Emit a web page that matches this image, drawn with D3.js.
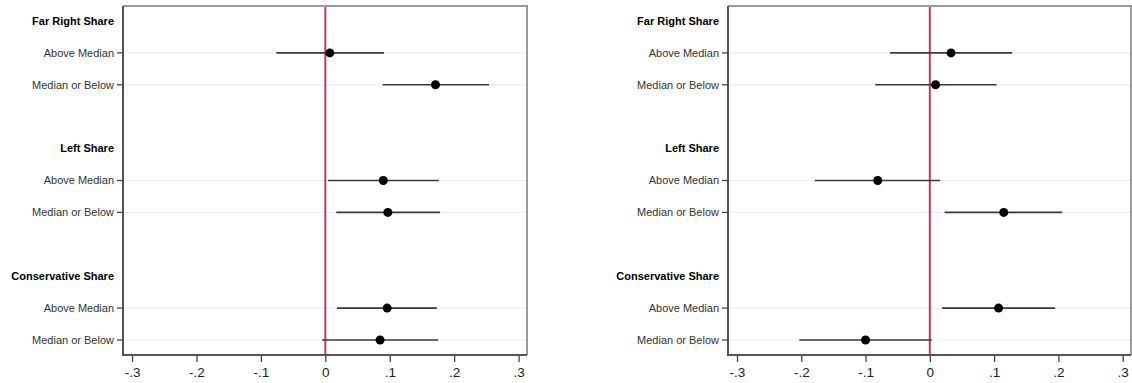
<!DOCTYPE html>
<html>
<head>
<meta charset="utf-8">
<script src="https://cdn.jsdelivr.net/npm/d3@7"></script>
<style>
	body { margin: 0; background: #fff; }
	svg { display: block; font-family: "Liberation Sans", Arial, sans-serif; }
</style>
</head>
<body>
<svg id="svgChart" width="1132" height="383"></svg>
<script>

// groups and levels, top to bottom
var groups = ["Far Right Share", "Left Share", "Conservative Share"];
var levels = ["Above Median", "Median or Below"];
var xTicks = [-0.3, -0.2, -0.1, 0, 0.1, 0.2, 0.3];

// left panel: estimate, lower and upper CI (order: FR AM, FR MB, L AM, L MB, C AM, C MB)
var leftEst   = [0.007, 0.171, 0.090, 0.097, 0.096, 0.085];
var leftLow   = [-0.076, 0.089, 0.004, 0.017, 0.018, -0.005];
var leftHigh  = [0.091, 0.254, 0.176, 0.178, 0.173, 0.175];

// right panel
var rightEst  = [0.033, 0.009, -0.081, 0.115, 0.107, -0.100];
var rightLow  = [-0.062, -0.085, -0.179, 0.023, 0.019, -0.203];
var rightHigh = [0.128, 0.104, 0.016, 0.206, 0.195, 0.003];

class CoefPanel{
	/*
		One coefficient plot: a header row per group, one row per level,
		a spacer row between groups, zero reference line in red.
	*/
	constructor(svg, est, low, high, config) {
		this.svg = svg;
		this.cfg = config;
		this.rows = this._buildRows(est, low, high);

		this.xScale = d3.scaleLinear()
						.domain([-0.314, 0.313])
						.range([config.left, config.right]);
		this.yScale = d3.scalePoint()
						.domain(this.rows.map(function(d) { return d.key; }))
						.range([config.firstRow, config.lastRow]);

		this.g = this.svg.append("g");
		this._drawGrid();
		this._drawZeroLine();
		this._drawEstimates();
		this._drawFrame();
		this._drawAxes();
	}
	_buildRows(est, low, high){
		var rows = [];
		var k = 0;
		groups.forEach(function(grp, gi) {
			rows.push({key: "h" + gi, label: grp, header: true});
			levels.forEach(function(lv) {
				rows.push({key: "r" + k, label: lv, header: false,
						   est: est[k], low: low[k], high: high[k]});
				k++;
			});
			if (gi < groups.length - 1) {
				rows.push({key: "s" + gi, label: "", header: true, spacer: true});
			}
		});
		return rows;
	}
	_drawGrid(){
		var that = this;
		this.g.selectAll(".grid")
			.data(this.rows.filter(function(d) { return !d.header; }))
			.enter().append("line")
			.attr("class", "grid")
			.attr("x1", this.cfg.left)
			.attr("x2", this.cfg.right)
			.attr("y1", function(d) { return that.yScale(d.key); })
			.attr("y2", function(d) { return that.yScale(d.key); })
			.attr("stroke", "#e9f1f2")
			.attr("stroke-width", 1.2);
	}
	_drawZeroLine(){
		this.g.append("line")
			.attr("x1", this.xScale(0))
			.attr("x2", this.xScale(0))
			.attr("y1", this.cfg.top)
			.attr("y2", this.cfg.bottom)
			.attr("stroke", "#c8365e")
			.attr("stroke-width", 2);
	}
	_drawEstimates(){
		var that = this;
		var pts = this.rows.filter(function(d) { return !d.header; });

		this.g.selectAll(".ci")
			.data(pts)
			.enter().append("line")
			.attr("class", "ci")
			.attr("x1", function(d) { return that.xScale(d.low); })
			.attr("x2", function(d) { return that.xScale(d.high); })
			.attr("y1", function(d) { return that.yScale(d.key); })
			.attr("y2", function(d) { return that.yScale(d.key); })
			.attr("stroke", "#3a3a3a")
			.attr("stroke-width", 1.6);

		this.g.selectAll(".pt")
			.data(pts)
			.enter().append("circle")
			.attr("class", "pt")
			.attr("cx", function(d) { return that.xScale(d.est); })
			.attr("cy", function(d) { return that.yScale(d.key); })
			.attr("r", 4.5)
			.style("fill", "#000");
	}
	_drawFrame(){
		var c = this.cfg;
		// top / right in light grey, left / bottom darker
		this.g.append("path")
			.attr("d", "M" + c.left + "," + c.top + "H" + c.right + "V" + c.bottom)
			.attr("fill", "none")
			.attr("stroke", "#9a9a9a")
			.attr("stroke-width", 2);
		this.g.append("path")
			.attr("d", "M" + c.left + "," + c.top + "V" + c.bottom + "H" + c.right)
			.attr("fill", "none")
			.attr("stroke", "#555")
			.attr("stroke-width", 2);
	}
	_drawAxes(){
		var that = this;
		var c = this.cfg;

		var fmt = function(v) {
			if (Math.abs(v) < 1e-9) return "0";
			return (v < 0 ? "-" : "") + Math.abs(v).toFixed(1).replace(/^0/, "");
		};
		var xAxis = d3.axisBottom(this.xScale)
						.tickValues(xTicks)
						.tickFormat(fmt)
						.tickSize(6)
						.tickPadding(5);
		var gx = this.g.append("g")
			.attr("transform", "translate(0," + (c.bottom + 1) + ")")
			.call(xAxis);
		gx.select(".domain").remove();
		gx.selectAll(".tick line").attr("stroke", "#444").attr("stroke-width", 1.3);
		gx.selectAll(".tick text")
			.attr("fill", "#222")
			.style("font-size", "13.5px")
			.style("font-family", "'Liberation Sans', Arial, sans-serif");

		// y labels: levels get a small tick, group headers are bold
		var labs = this.rows.filter(function(d) { return !d.spacer; });
		this.g.selectAll(".ytick")
			.data(labs.filter(function(d) { return !d.header; }))
			.enter().append("line")
			.attr("class", "ytick")
			.attr("x1", c.left - 6)
			.attr("x2", c.left)
			.attr("y1", function(d) { return that.yScale(d.key); })
			.attr("y2", function(d) { return that.yScale(d.key); })
			.attr("stroke", "#444")
			.attr("stroke-width", 1.3);

		this.g.selectAll(".ylab")
			.data(labs)
			.enter().append("text")
			.attr("class", "ylab")
			.attr("x", c.left - 9)
			.attr("y", function(d) { return that.yScale(d.key); })
			.attr("dy", "0.35em")
			.attr("text-anchor", "end")
			.style("font-size", "11px")
			.style("font-weight", function(d) { return d.header ? "bold" : "normal"; })
			.attr("fill", function(d) { return d.header ? "#000" : "#333"; })
			.text(function(d) { return d.label; });
	}
}

var svg = d3.select("#svgChart");
var base = {top: 6, bottom: 355, firstRow: 21, lastRow: 340};

new CoefPanel(svg, leftEst, leftLow, leftHigh,
	Object.assign({left: 123, right: 527}, base));
new CoefPanel(svg, rightEst, rightLow, rightHigh,
	Object.assign({left: 728, right: 1131}, base));

</script>
</body>
</html>
